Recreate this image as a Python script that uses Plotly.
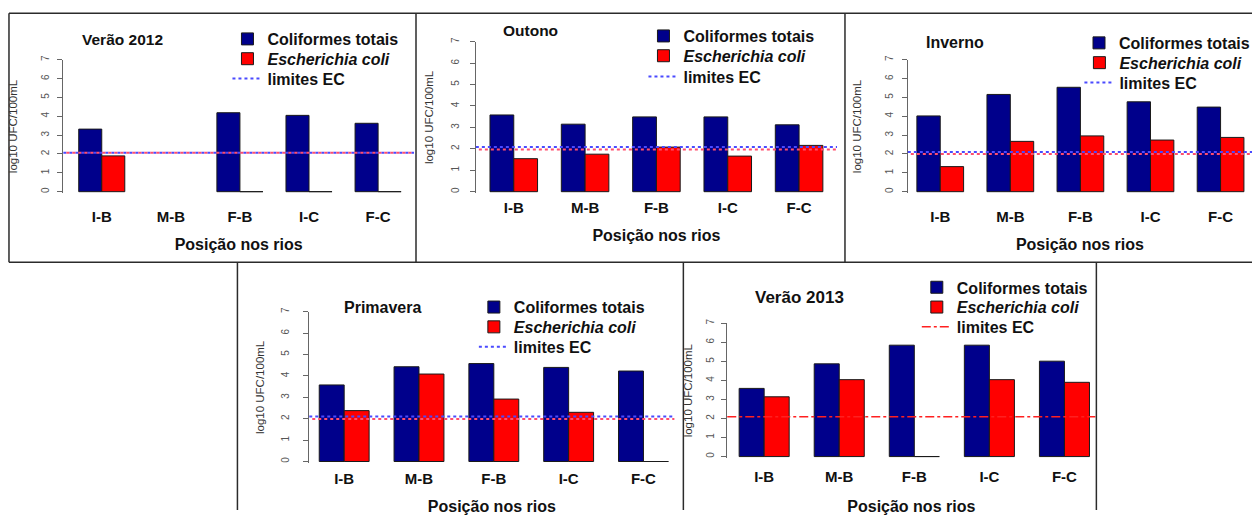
import plotly.graph_objects as go

W, H = 1255, 515

# ---------------- data ----------------
categorias = ["I-B", "M-B", "F-B", "I-C", "F-C"]
estacoes = ["Verão 2012", "Outono", "Inverno", "Primavera", "Verão 2013"]
y_ticks = [0, 1, 2, 3, 4, 5, 6, 7]

coliformes_verao2012 = [3.32, None, 4.19, 4.05, 3.63]
ecoli_verao2012 = [1.90, None, 0.0, 0.0, 0.0]

coliformes_outono = [3.58, 3.15, 3.49, 3.49, 3.12]
ecoli_outono = [1.54, 1.75, 2.08, 1.66, 2.16]

coliformes_inverno = [4.02, 5.16, 5.54, 4.77, 4.49]
ecoli_inverno = [1.33, 2.67, 2.96, 2.74, 2.88]

coliformes_primavera = [3.58, 4.43, 4.58, 4.40, 4.23]
ecoli_primavera = [2.38, 4.09, 2.92, 2.30, 0.0]

coliformes_verao2013 = [3.58, 4.87, 5.85, 5.85, 5.01]
ecoli_verao2013 = [3.14, 4.04, 0.0, 4.04, 3.90]

limite_ec_azul = [2.06, 2.08, 2.10, 2.10, None]
limite_ec_vermelho = [2.06, 1.97, 2.00, 1.99, 2.09]

coliformes = [coliformes_verao2012, coliformes_outono, coliformes_inverno,
              coliformes_primavera, coliformes_verao2013]
ecoli = [ecoli_verao2012, ecoli_outono, ecoli_inverno,
         ecoli_primavera, ecoli_verao2013]

# ---------------- geometry / style (pixels) ----------------
panels = [
    dict(L=63.5, R=415, c0=102, s=69.25, y0=193.3, y7=60.0,
         xlab=13, xtit=14, ylab=4, ytit=20, title=(123, 39, 15.5),
         leg=(268, [39, 59, 79])),
    dict(L=477, R=839, c0=515, s=71.5, y0=193.3, y7=41.7,
         xlab=4, xtit=14, ylab=7, ytit=13, title=(532, 30, 15.5),
         leg=(685, [36, 56, 77])),
    dict(L=910, R=1255, c0=942.5, s=70.25, y0=193.3, y7=60.0,
         xlab=13, xtit=14, ylab=5, ytit=19, title=(957, 43, 16),
         leg=(1122, [43, 63, 83])),
    dict(L=310, R=676, c0=345, s=75.0, y0=466.0, y7=314.7,
         xlab=5, xtit=17, ylab=10, ytit=13, title=(383, 310, 16),
         leg=(515, [310, 330, 350])),
    dict(L=729, R=1098, c0=766, s=75.25, y0=461.0, y7=326.3,
         xlab=8, xtit=17, ylab=3, ytit=10, title=(801, 300, 17),
         leg=(959, [290, 310, 330])),
]

K = 1 / 0.991  # vertical calibration of the rendered page


def Y(y):
    """pixel row (from top) -> paper y"""
    return (H - y) * K / H


AZUL = "#00008B"
VERMELHO = "#FF0000"
FONT = "Liberation Sans, Arial, sans-serif"

fig = go.Figure()
layout = dict(
    width=W, height=H, autosize=False,
    margin=dict(l=0, r=0, t=0, b=0),
    paper_bgcolor="white", plot_bgcolor="white",
    barmode="group", bargap=1/3, bargroupgap=0,
    font=dict(family=FONT, color="#111"),
    showlegend=True,
)
shapes = []
annotations = []
x_idx = list(range(len(categorias)))


def legend_name(k):
    return "legend" if k == 1 else "legend%d" % k


for i, p in enumerate(panels):
    n = "" if i == 0 else str(i + 1)
    xa, ya = "x" + n, "y" + n
    legs = [legend_name(3 * i + j + 1) for j in range(3)]
    unit = (p["y0"] - p["y7"]) / 7.0

    fig.add_trace(go.Bar(
        x=x_idx, y=coliformes[i], name="Coliformes totais",
        xaxis=xa, yaxis=ya, legend=legs[0],
        marker=dict(color=AZUL, line=dict(color="#1a1a1a", width=1)),
        hoverinfo="y",
    ))
    fig.add_trace(go.Bar(
        x=x_idx, y=ecoli[i], name="<i>Escherichia coli</i>",
        xaxis=xa, yaxis=ya, legend=legs[1],
        marker=dict(color=VERMELHO, line=dict(color="#1a1a1a", width=1)),
        hoverinfo="y",
    ))

    layout["xaxis" + n] = dict(
        domain=[p["L"] / W, p["R"] / W],
        range=[(p["L"] - p["c0"]) / p["s"], (p["R"] - p["c0"]) / p["s"]],
        anchor=ya, tickmode="array", tickvals=x_idx, ticktext=categorias,
        ticks="", showline=False, showgrid=False, zeroline=False,
        ticklabelstandoff=int(p["xlab"]),
        tickfont=dict(size=15, weight="bold", color="#111", family=FONT),
        title=dict(text="Posição nos rios", standoff=p["xtit"],
                   font=dict(size=16, weight="bold", color="#111", family=FONT)),
        fixedrange=True,
    )
    layout["yaxis" + n] = dict(
        domain=[Y(p["y0"] + 1.5), min(1.0, Y(p["y7"]))],
        range=[-1.5 / unit, 7],
        anchor=xa, tickmode="array", tickvals=y_ticks,
        ticks="outside", ticklen=5, tickcolor="#666", tickwidth=1,
        showline=True, linecolor="#666", linewidth=1,
        showgrid=False, zeroline=False, tickangle=-90,
        ticklabelstandoff=int(p["ylab"]),
        tickfont=dict(size=10, color="#555", family=FONT),
        title=dict(text="log10 UFC/100mL", standoff=p["ytit"],
                   font=dict(size=11.5, color="#333", family=FONT)),
        fixedrange=True,
    )

    # EC limit lines
    if limite_ec_azul[i] is not None:
        shapes.append(dict(
            type="line", xref=xa + " domain", yref=ya,
            x0=0, x1=1, y0=limite_ec_azul[i], y1=limite_ec_azul[i],
            line=dict(color="#4a4aff", width=2, dash="3px,3px"),
            showlegend=True, legend=legs[2], name="limites EC", layer="above",
        ))
        shapes.append(dict(
            type="line", xref=xa + " domain", yref=ya,
            x0=3 / (p["R"] - p["L"]), x1=1,
            y0=limite_ec_vermelho[i], y1=limite_ec_vermelho[i],
            line=dict(color="#ff4d6d", width=2, dash="3px,3px"),
            showlegend=False, layer="above",
        ))
    else:
        shapes.append(dict(
            type="line", xref=xa + " domain", yref=ya,
            x0=0, x1=1, y0=limite_ec_vermelho[i], y1=limite_ec_vermelho[i],
            line=dict(color="#ff2020", width=1.5, dash="dashdot"),
            showlegend=True, legend=legs[2], name="limites EC", layer="above",
        ))

    tx, ty, ts = p["title"]
    annotations.append(dict(
        text=estacoes[i], x=tx / W, y=Y(ty), xref="paper", yref="paper",
        xanchor="center", yanchor="middle", showarrow=False,
        font=dict(size=ts, weight="bold", color="#111", family=FONT),
    ))

    lx, rows = p["leg"]
    for j in range(3):
        layout[legs[j]] = dict(
            x=(lx - 40) / W, y=Y(rows[j]), xanchor="left", yanchor="middle",
            bgcolor="rgba(0,0,0,0)", borderwidth=0, itemwidth=30,
            tracegroupgap=0, traceorder="normal",
            font=dict(size=16, weight="bold", color="#111", family=FONT),
        )

# panel frames
FR = dict(color="#2b2b2b", width=1.5)
frame_segments = [
    (9, 13, 1255, 13), (9, 264.5, 1255, 264.5),
    (9, 13, 9, 264.5), (417, 13, 417, 264.5), (847, 13, 847, 264.5),
    (238, 264.5, 238, 515), (685, 264.5, 685, 515), (1099, 264.5, 1099, 515),
]
for (x0, y0, x1, y1) in frame_segments:
    shapes.append(dict(type="line", xref="paper", yref="paper",
                       x0=x0 / W, x1=x1 / W, y0=Y(y0), y1=Y(y1),
                       line=FR, layer="above"))

layout["shapes"] = shapes
layout["annotations"] = annotations
fig.update_layout(**layout)

post = (
    "document.documentElement.style.margin='0';"
    "document.documentElement.style.overflow='hidden';"
    "document.body.style.margin='0';"
    "document.body.style.padding='0';"
    "document.body.style.overflow='hidden';"
    "var gd=document.getElementsByClassName('plotly-graph-div')[0];"
    "gd.style.position='fixed';gd.style.top='0px';gd.style.left='0px';"
)
fig.write_html("out.html", config={"displayModeBar": False}, post_script=post)
